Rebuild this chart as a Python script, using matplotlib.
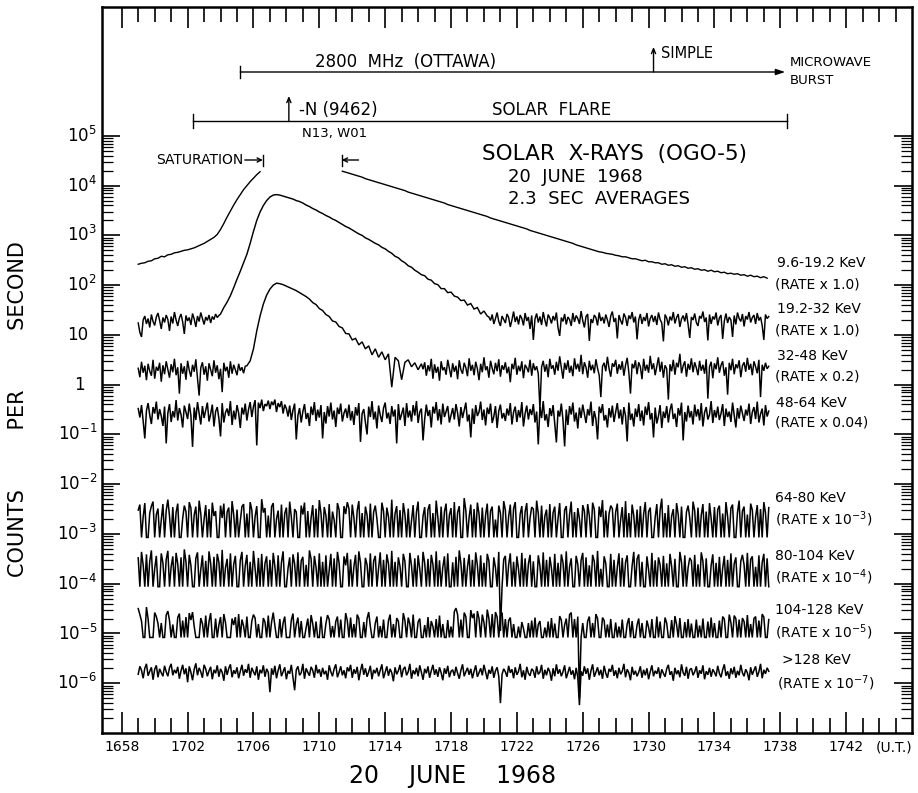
import numpy as np
import matplotlib
matplotlib.use('Agg')
import matplotlib.pyplot as plt
import matplotlib.transforms as mtransforms
from matplotlib.ticker import FixedLocator, NullFormatter

plt.rcParams['font.family'] = ['DejaVu Sans']
plt.rcParams['mathtext.fontset'] = 'dejavusans'

# ------------------------------------------------------------------ data
# time axis: minutes after 16:58 UT
TIME_LABELS = ['1658', '1702', '1706', '1710', '1714', '1718', '1722',
               '1726', '1730', '1734', '1738', '1742']
COARSE_STEP = 0.2       # minutes between read-off samples on smooth parts
FINE_STEP = 0.1         # minutes between read-off samples on noisy parts

# ---- 9.6-19.2 KeV: log10(counts/s), smooth, saturated in the middle
CH1_RISE_START = 1.0
CH1_RISE = [2.42, 2.44, 2.45, 2.48, 2.49, 2.53, 2.54, 2.58, 2.57, 2.61, 2.62, 2.65,
            2.66, 2.68, 2.70, 2.71, 2.73, 2.75, 2.78, 2.81, 2.84, 2.88, 2.92, 2.96,
            3.02, 3.12, 3.24, 3.37, 3.49, 3.61, 3.72, 3.82, 3.92, 4.00, 4.08, 4.15,
            4.22, 4.28]
CH1_DECAY_START = 13.4
CH1_DECAY = [4.29, 4.27, 4.25, 4.23, 4.21, 4.19, 4.17, 4.14, 4.12, 4.10, 4.08, 4.06,
             4.04, 4.02, 4.00, 3.98, 3.96, 3.94, 3.92, 3.90, 3.87, 3.85, 3.83, 3.81,
             3.79, 3.77, 3.75, 3.73, 3.71, 3.69, 3.67, 3.65, 3.62, 3.60, 3.58, 3.56,
             3.54, 3.52, 3.50, 3.48, 3.46, 3.44, 3.42, 3.40, 3.38, 3.35, 3.33, 3.31,
             3.29, 3.27, 3.25, 3.23, 3.21, 3.19, 3.17, 3.15, 3.13, 3.10, 3.08, 3.06,
             3.04, 3.02, 3.00, 2.98, 2.96, 2.94, 2.92, 2.90, 2.88, 2.86, 2.84, 2.81,
             2.79, 2.77, 2.75, 2.73, 2.71, 2.69, 2.67, 2.66, 2.64, 2.63, 2.62, 2.60,
             2.59, 2.57, 2.57, 2.55, 2.53, 2.53, 2.51, 2.49, 2.50, 2.47, 2.47, 2.45,
             2.45, 2.42, 2.43, 2.40, 2.41, 2.38, 2.39, 2.36, 2.37, 2.34, 2.35, 2.32,
             2.33, 2.30, 2.31, 2.28, 2.30, 2.27, 2.28, 2.25, 2.26, 2.23, 2.24, 2.22,
             2.23, 2.20, 2.21, 2.18, 2.20, 2.17, 2.18, 2.15, 2.17, 2.14]

# ---- 19.2-32 KeV: log10(counts/s)
CH2_PRE_START = 1.0     # fine step
CH2_PRE = [1.24, 1.05, 0.96, 1.30, 1.38, 1.22, 1.33, 1.15, 1.41, 1.27,
           1.19, 1.36, 1.44, 1.29, 1.12, 1.35, 1.25, 1.40, 1.31, 1.08,
           1.37, 1.23, 1.46, 1.30, 1.18, 1.34, 1.42, 1.26, 1.02, 1.39,
           1.28, 1.35, 1.20, 1.43, 1.32, 1.16, 1.38, 1.27, 1.45, 1.33,
           1.21, 1.36, 1.29, 1.40, 1.24, 1.37, 1.31, 1.42, 1.35, 1.39]
CH2_FLARE_START = 6.0   # coarse step
CH2_FLARE = [1.42, 1.55, 1.66, 1.79, 1.95, 2.12, 2.28, 2.45, 2.62, 2.84, 3.08, 3.30,
             3.47, 3.60, 3.70, 3.77, 3.81, 3.82, 3.81, 3.79, 3.77, 3.75, 3.73, 3.70, 3.68,
             3.65, 3.61, 3.58, 3.54, 3.51, 3.47, 3.44, 3.40, 3.37, 3.33, 3.30, 3.26,
             3.22, 3.18, 3.15, 3.11, 3.07, 3.03, 3.00, 2.95, 2.92, 2.88, 2.84, 2.81,
             2.76, 2.73, 2.68, 2.64, 2.58, 2.55, 2.49, 2.45, 2.39, 2.36, 2.30, 2.26,
             2.21, 2.19, 2.12, 2.10, 2.03, 2.01, 1.93, 1.93, 1.85, 1.86, 1.78, 1.76,
             1.69, 1.70, 1.60, 1.63, 1.52, 1.55, 1.42, 1.48, 1.38]
CH2_POST_START = 22.3   # fine step
CH2_POST = [1.36, 1.29, 1.41, 1.22, 1.33, 1.45, 1.27, 1.18, 1.38, 1.31,
            1.24, 1.42, 1.35, 1.16, 1.30, 1.47, 1.26, 1.37, 1.21, 1.40,
            1.33, 1.19, 1.44, 1.28, 1.36, 1.12, 1.39, 0.90, 1.32, 1.43,
            1.25, 1.37, 1.20, 1.46, 1.30, 1.17, 1.41, 1.34, 1.23, 1.38,
            1.29, 1.45, 1.14, 0.98, 1.35, 1.27, 1.42, 1.21, 1.36, 1.31,
            1.18, 1.44, 1.26, 1.39, 1.33, 1.22, 1.48, 1.29, 1.15, 1.37,
            1.42, 0.88, 1.32, 1.24, 1.40, 1.35, 1.19, 1.45, 1.28, 1.36,
            1.23, 1.41, 1.30, 1.16, 1.38, 1.47, 1.26, 1.34, 0.93, 1.40,
            1.29, 1.21, 1.43, 1.35, 1.18, 1.39, 1.32, 1.46, 1.25, 1.37,
            0.91, 1.30, 1.42, 1.22, 1.36, 1.28, 1.44, 1.17, 1.33, 1.40,
            1.26, 1.38, 1.20, 1.45, 1.31, 1.24, 0.87, 1.41, 1.34, 1.19,
            1.37, 1.29, 1.46, 1.23, 1.35, 1.42, 1.16, 1.32, 1.39, 1.27,
            1.44, 1.21, 0.94, 1.36, 1.30, 1.43, 1.25, 1.18, 1.38, 1.33,
            1.47, 1.26, 1.35, 0.89, 1.41, 1.22, 1.37, 1.31, 1.45, 1.19,
            1.34, 1.40, 0.92, 1.28, 1.43, 1.24, 1.36, 1.30, 0.96, 1.39,
            1.21, 1.45, 1.33, 1.27, 1.42, 1.17, 1.38, 1.31, 1.46, 1.25,
            1.35, 1.40, 1.22, 1.44, 1.29, 1.36, 1.19, 0.90, 1.41, 1.33,
            1.37]

# ---- 32-48 KeV: log10(counts/s)
CH3_PRE_START = 1.0     # fine step
CH3_PRE = [0.33, 0.15, 0.46, 0.24, 0.38, 0.09, 0.42, 0.27, 0.18, 0.50,
           0.12, 0.36, 0.28, 0.44, 0.06, 0.39, 0.21, 0.47, 0.31, 0.14,
           0.41, 0.25, 0.52, 0.19, 0.35, -0.18, 0.43, 0.22, 0.37, 0.10,
           0.48, 0.29, 0.16, 0.40, 0.26, 0.51, 0.13, -0.22, 0.34, 0.45,
           0.20, 0.37, 0.08, 0.43, 0.30, 0.17, 0.49, 0.24, 0.39, 0.11,
           0.32, -0.15, 0.44, 0.27, 0.36, 0.14, 0.47, 0.22, 0.40, 0.30,
           0.19, 0.42, 0.28, 0.35, 0.23, 0.37]
CH3_FLARE_START = 7.6   # coarse step
CH3_FLARE = [0.38, 0.48, 0.72, 1.08, 1.38, 1.62, 1.80, 1.92, 2.00, 2.04, 2.03, 2.01,
             1.98, 1.95, 1.92, 1.89, 1.85, 1.81, 1.77, 1.72, 1.65, 1.61, 1.53, 1.49,
             1.41, 1.37, 1.28, 1.26, 1.17, 1.14, 1.03, 1.02, 0.90, 0.93, 0.80, 0.86,
             0.72, 0.78, 0.60, 0.72, 0.55, 0.66, 0.50, 0.62, -0.05, 0.55, 0.48, 0.10,
             0.45, 0.50, 0.36, 0.44, 0.30, 0.42]
CH3_POST_START = 18.3   # fine step
CH3_POST = [0.31, 0.45, 0.18, 0.39, 0.27, 0.52, 0.12, 0.41, 0.24, 0.36,
            0.08, 0.47, 0.29, 0.35, 0.20, 0.50, 0.33, 0.15, 0.43, 0.26,
            0.38, 0.11, 0.49, 0.30, 0.22, 0.44, 0.34, 0.17, 0.53, 0.28,
            0.40, 0.19, 0.46, 0.32, 0.09, 0.42, 0.25, 0.55, 0.29, 0.37,
            0.14, 0.48, 0.33, 0.21, 0.44, 0.27, 0.51, 0.16, 0.39, 0.30,
            0.45, 0.23, 0.36, 0.05, 0.42, 0.31, 0.54, 0.20, 0.38, 0.27,
            0.47, 0.13, 0.40, 0.34, 0.25, 0.50, 0.18, 0.43, 0.29, 0.37,
            0.22, -0.50, 0.35, 0.48, 0.26, 0.41, 0.15, 0.52, 0.32, 0.39,
            0.20, 0.46, 0.28, 0.57, 0.34, 0.12, 0.44, 0.30, 0.49, 0.24,
            0.38, 0.17, 0.53, 0.31, 0.42, 0.26, 0.60, 0.21, 0.45, 0.35,
            0.14, 0.48, 0.29, 0.40, 0.23, 0.51, 0.33, 0.19, -0.25, 0.37,
            0.44, 0.27, 0.56, 0.32, 0.16, 0.43, 0.36, 0.50, 0.22, 0.41,
            0.30, 0.47, 0.18, 0.39, 0.54, 0.25, -0.18, 0.42, 0.33, 0.49,
            0.21, 0.45, 0.36, 0.11, 0.52, 0.28, 0.40, 0.24, 0.58, 0.31,
            0.43, 0.19, 0.37, 0.55, 0.26, 0.46, 0.14, 0.39, 0.32, -0.30,
            0.41, 0.27, 0.50, 0.20, 0.44, 0.35, 0.62, 0.23, 0.38, 0.47,
            0.16, 0.42, 0.30, 0.53, 0.25, 0.45, 0.34, 0.19, 0.48, 0.28,
            0.40, 0.22, 0.51, -0.28, 0.36, 0.46, 0.13, 0.43, 0.31, 0.55,
            0.24, 0.39, 0.47, 0.18, 0.35, -0.20, 0.44, 0.29, 0.52, 0.21,
            0.41, 0.33, 0.49, 0.15, 0.38, 0.45, 0.26, 0.54, 0.30, 0.42,
            0.19, 0.47, 0.36, 0.23, 0.50, -0.25, 0.40, 0.28, 0.44, 0.32,
            0.37]

# ---- channels 4-8: log10(counts/s) in hundredths, fine step from t = 1.0
NOISY_START = 1.0
CH4 = [-48, -66, -41, -73, -108, -52, -37, -61, -79, -45, -58, -34, -70, -49, -63, -83,
       -44, -118, -57, -39, -75, -53, -66, -31, -72, -47, -60, -86, -42, -55, -69, -38,
       -62, -125, -46, -71, -35, -58, -80, -43, -67, -51, -36, -74, -59, -40, -84, -54,
       -45, -68, -104, -37, -76, -56, -48, -63, -33, -81, -52, -70, -41, -57, -87, -46,
       -60, -38, -72, -50, -35, -65, -44, -31, -122, -36, -47, -30, -53, -39, -43, -32,
       -49, -34, -41, -30, -55, -37, -45, -33, -58, -40, -48, -64, -42, -71, -51, -38,
       -110, -62, -47, -76, -54, -39, -69, -57, -83, -44, -61, -35, -73, -50, -66, -41,
       -108, -55, -78, -43, -64, -36, -70, -52, -85, -46, -59, -38, -74, -57, -48, -67,
       -40, -72, -53, -81, -45, -62, -37, -115, -58, -49, -76, -100, -44, -65, -33, -70,
       -54, -88, -42, -61, -75, -47, -36, -68, -56, -79, -43, -64, -50, -118, -39, -71,
       -59, -46, -83, -37, -66, -52, -74, -41, -62, -33, -77, -55, -48, -112, -69, -40,
       -63, -51, -86, -44, -58, -35, -72, -49, -80, -38, -65, -54, -43, -76, -61, -47,
       -70, -39, -57, -84, -45, -67, -52, -36, -74, -60, -106, -48, -79, -41, -63, -55,
       -34, -71, -50, -82, -46, -59, -38, -77, -64, -43, -87, -53, -40, -68, -57, -73,
       -48, -62, -37, -80, -55, -44, -75, -51, -66, -35, -84, -58, -42, -70, -49, -61,
       -39, -76, -54, -120, -45, -67, -33, -72, -59, -85, -47, -63, -41, -78, -116, -52,
       -64, -38, -71, -124, -50, -81, -43, -60, -36, -74, -56, -88, -46, -67, -40, -58,
       -77, -49, -62, -34, -83, -53, -69, -110, -44, -57, -39, -72, -61, -86, -47, -66,
       -42, -75, -55, -37, -68, -50, -80, -45, -63, -114, -36, -71, -58, -84, -48, -65,
       -39, -73, -52, -82, -44, -61, -35, -70, -57, -106, -46, -78, -63, -41, -87, -54,
       -67, -43, -76, -51, -38, -69, -58, -85, -47, -62, -36, -112, -55, -74, -42, -66,
       -53, -80, -40, -64, -49, -72, -37, -84, -56, -45, -70, -60, -33, -77, -51, -66,
       -44, -71, -58, -39, -83, -48, -65, -54, -75, -36, -61, -86, -47, -68, -42, -57,
       -73, -50, -62, -38, -79, -55, -45, -69, -34, -76, -59, -48, -82, -41, -64, -53]

CH5 = [-252, -241, -307, -266, -238, -307, -307, -258, -244, -235, -307, -261, -249, -307, -272, -240,
       -307, -253, -231, -264, -307, -246, -307, -257, -239, -307, -307, -269, -243, -255, -307, -236,
       -248, -307, -262, -245, -307, -233, -259, -307, -271, -242, -307, -250, -307, -237, -264, -254,
       -307, -307, -243, -268, -239, -307, -256, -247, -307, -234, -261, -307, -251, -307, -274, -245,
       -240, -307, -259, -307, -236, -252, -307, -265, -244, -307, -307, -230, -257, -248, -307, -263,
       -307, -245, -238, -307, -270, -253, -307, -241, -307, -259, -247, -307, -235, -266, -307, -250,
       -256, -307, -307, -243, -261, -237, -307, -254, -307, -268, -242, -307, -249, -307, -232, -258,
       -307, -246, -263, -307, -240, -307, -255, -272, -307, -238, -251, -307, -307, -244, -260, -236,
       -249, -307, -241, -267, -307, -253, -234, -307, -258, -307, -245, -262, -307, -239, -307, -256,
       -243, -270, -307, -307, -237, -254, -307, -247, -265, -307, -231, -307, -259, -244, -307, -252,
       -307, -238, -261, -307, -249, -307, -273, -242, -307, -256, -235, -307, -307, -264, -246, -307,
       -251, -240, -307, -258, -307, -233, -267, -307, -245, -307, -255, -239, -307, -262, -248, -307,
       -236, -307, -257, -244, -307, -307, -228, -253, -307, -266, -241, -307, -250, -307, -237, -260,
       -307, -247, -307, -262, -239, -307, -254, -245, -307, -271, -307, -243, -258, -307, -234, -252,
       -307, -265, -241, -307, -249, -236, -307, -307, -260, -244, -307, -255, -238, -307, -268, -246,
       -250, -307, -233, -259, -307, -243, -307, -264, -251, -307, -240, -307, -257, -245, -307, -269,
       -238, -307, -307, -252, -244, -307, -261, -235, -307, -256, -307, -248, -270, -307, -242, -254,
       -307, -240, -263, -307, -237, -250, -307, -307, -245, -266, -232, -307, -253, -307, -259, -243,
       -249, -307, -256, -239, -307, -272, -246, -307, -234, -307, -258, -307, -241, -263, -307, -251,
       -307, -244, -307, -260, -236, -307, -255, -247, -307, -307, -267, -240, -307, -252, -229, -307,
       -258, -307, -242, -307, -264, -250, -307, -238, -261, -307, -245, -307, -307, -256, -243, -268,
       -307, -235, -253, -307, -247, -307, -262, -240, -307, -255, -307, -238, -269, -307, -246, -307,
       -251, -243, -307, -259, -307, -236, -265, -307, -248, -241, -307, -307, -257, -233, -307, -254,
       -245, -307, -261, -307, -239, -252, -307, -266, -242, -307, -250, -307, -236, -258, -307, -247]

CH6 = [-348, -406, -336, -362, -406, -341, -406, -355, -333, -406, -370, -344, -406, -406, -339, -358,
       -406, -351, -334, -406, -366, -345, -406, -338, -360, -406, -347, -406, -331, -356, -406, -342,
       -363, -406, -406, -349, -337, -406, -372, -343, -406, -354, -406, -335, -359, -406, -346, -406,
       -340, -357, -406, -332, -406, -368, -350, -406, -339, -406, -361, -344, -406, -406, -353, -336,
       -406, -364, -342, -406, -356, -406, -334, -371, -406, -348, -406, -340, -406, -359, -345, -406,
       -352, -406, -338, -365, -406, -343, -406, -357, -335, -406, -406, -369, -347, -406, -341, -360,
       -406, -337, -406, -354, -346, -406, -362, -406, -333, -350, -406, -344, -367, -406, -339, -406,
       -356, -406, -343, -406, -373, -340, -406, -349, -406, -336, -358, -406, -406, -345, -363, -338,
       -406, -351, -406, -366, -342, -406, -335, -357, -406, -406, -348, -362, -406, -339, -406, -354,
       -344, -406, -369, -337, -406, -352, -406, -341, -360, -406, -334, -406, -356, -406, -347, -365,
       -406, -340, -355, -406, -406, -338, -364, -406, -349, -406, -343, -370, -406, -336, -358, -406,
       -350, -406, -342, -361, -406, -335, -406, -353, -406, -367, -345, -406, -339, -406, -406, -357,
       -406, -346, -406, -333, -359, -406, -348, -406, -366, -341, -406, -352, -406, -337, -363, -406,
       -343, -406, -358, -406, -340, -354, -406, -406, -347, -368, -406, -336, -495, -406, -351, -344,
       -406, -362, -339, -406, -356, -406, -345, -371, -406, -338, -406, -349, -406, -360, -342, -406,
       -355, -406, -406, -343, -364, -406, -337, -406, -352, -406, -346, -369, -406, -340, -406, -358,
       -406, -341, -357, -406, -335, -406, -366, -349, -406, -406, -344, -361, -406, -353, -338, -406,
       -347, -406, -363, -406, -342, -355, -406, -334, -406, -370, -406, -345, -359, -406, -406, -340,
       -406, -352, -406, -367, -339, -406, -348, -406, -357, -343, -406, -406, -364, -336, -406, -350,
       -341, -406, -356, -406, -406, -345, -372, -406, -338, -406, -353, -406, -347, -362, -406, -344,
       -406, -359, -406, -340, -365, -406, -350, -406, -406, -336, -357, -406, -343, -406, -368, -348,
       -354, -406, -342, -406, -361, -406, -337, -355, -406, -349, -406, -406, -363, -341, -406, -358,
       -406, -346, -406, -369, -344, -406, -352, -406, -339, -406, -360, -347, -406, -406, -355, -342,
       -362, -406, -338, -406, -351, -345, -406, -366, -406, -343, -406, -357, -340, -406, -349, -406]

CH7 = [-450, -462, -475, -508, -508, -447, -471, -508, -508, -508, -458, -466, -480, -508, -479, -508,
       -508, -463, -455, -474, -508, -482, -508, -508, -468, -460, -508, -474, -508, -467, -508, -459,
       -473, -457, -486, -508, -508, -508, -469, -480, -508, -464, -508, -476, -459, -508, -508, -470,
       -508, -483, -467, -508, -461, -478, -508, -508, -508, -470, -483, -467, -508, -461, -508, -472,
       -485, -508, -466, -508, -508, -475, -462, -469, -508, -481, -508, -508, -469, -477, -508, -464,
       -508, -477, -458, -484, -508, -508, -471, -508, -479, -466, -508, -508, -508, -473, -460, -508,
       -482, -468, -508, -475, -508, -508, -488, -470, -508, -463, -480, -508, -476, -508, -508, -466,
       -508, -508, -480, -463, -472, -508, -485, -508, -476, -466, -508, -472, -508, -508, -459, -474,
       -508, -468, -508, -481, -508, -462, -470, -508, -508, -477, -508, -470, -457, -486, -508, -508,
       -479, -466, -508, -485, -508, -472, -508, -508, -474, -462, -508, -481, -508, -469, -475, -508,
       -508, -459, -474, -508, -468, -481, -508, -462, -508, -508, -477, -470, -508, -508, -483, -508,
       -467, -508, -475, -486, -508, -471, -508, -464, -508, -481, -508, -508, -473, -508, -486, -508,
       -456, -449, -462, -508, -472, -508, -458, -466, -508, -508, -453, -469, -460, -508, -455, -470,
       -508, -462, -478, -508, -452, -470, -508, -461, -508, -457, -467, -508, -464, -458, -508, -471,
       -508, -474, -468, -508, -481, -508, -508, -486, -508, -477, -490, -508, -508, -479, -508, -474,
       -508, -468, -508, -482, -475, -508, -508, -488, -508, -476, -508, -469, -508, -480, -508, -508,
       -465, -473, -508, -483, -470, -508, -462, -458, -508, -471, -508, -466, -630, -508, -479, -508,
       -508, -475, -466, -508, -479, -508, -461, -470, -508, -508, -468, -474, -508, -482, -508, -471,
       -508, -508, -478, -508, -486, -508, -472, -508, -508, -481, -469, -508, -475, -508, -508, -483,
       -470, -508, -479, -508, -508, -474, -488, -508, -471, -508, -508, -466, -508, -476, -508, -508,
       -468, -479, -508, -508, -473, -508, -465, -482, -508, -469, -508, -508, -477, -508, -471, -508,
       -480, -508, -508, -472, -508, -484, -508, -470, -508, -508, -476, -508, -468, -508, -479, -508,
       -508, -474, -508, -466, -471, -508, -508, -462, -478, -508, -464, -470, -508, -472, -508, -469,
       -476, -508, -463, -508, -481, -508, -470, -466, -508, -474, -508, -461, -467, -508, -508, -472]

CH8 = [-582, -566, -574, -590, -570, -561, -585, -576, -568, -593, -572, -564, -588, -571, -579, -586,
       -565, -577, -586, -569, -561, -584, -573, -580, -567, -591, -575, -563, -582, -570, -598, -566,
       -578, -594, -572, -560, -584, -569, -577, -589, -563, -571, -586, -575, -567, -592, -573, -580,
       -564, -587, -571, -578, -595, -566, -583, -570, -562, -588, -574, -581, -568, -590, -576, -563,
       -585, -572, -579, -561, -589, -569, -577, -584, -566, -593, -573, -580, -564, -587, -571, -578,
       -618, -570, -583, -565, -590, -574, -562, -586, -577, -568, -592, -575, -581, -563, -588, -614,
       -573, -566, -584, -579, -561, -591, -570, -578, -585, -567, -574, -589, -563, -580, -572, -587,
       -569, -582, -575, -593, -564, -577, -586, -571, -562, -588, -578, -566, -584, -574, -590, -568,
       -576, -563, -589, -572, -581, -567, -594, -575, -561, -583, -570, -587, -577, -565, -592, -573,
       -580, -569, -586, -574, -562, -590, -578, -566, -585, -571, -579, -596, -568, -582, -575, -563,
       -588, -572, -567, -584, -577, -561, -591, -574, -582, -569, -586, -564, -578, -593, -571, -580,
       -566, -589, -575, -563, -583, -572, -587, -568, -579, -594, -570, -581, -565, -588, -576, -573,
       -585, -567, -580, -591, -574, -562, -586, -577, -569, -583, -571, -590, -576, -564, -587, -579,
       -570, -584, -563, -578, -592, -573, -581, -566, -589, -575, -568, -586, -640, -582, -571, -577,
       -587, -565, -579, -572, -590, -568, -583, -576, -561, -588, -574, -593, -567, -580, -585, -571,
       -575, -589, -566, -582, -578, -563, -591, -573, -584, -569, -577, -595, -570, -586, -562, -581,
       -572, -586, -577, -564, -590, -579, -567, -583, -574, -592, -569, -588, -644, -576, -585, -566,
       -581, -570, -593, -575, -562, -587, -578, -568, -584, -573, -591, -565, -580, -589, -571, -577,
       -563, -585, -574, -590, -569, -582, -576, -561, -588, -572, -579, -594, -567, -583, -575, -586,
       -578, -566, -589, -573, -584, -570, -592, -577, -564, -586, -575, -581, -568, -590, -572, -580,
       -587, -571, -563, -583, -576, -595, -569, -582, -574, -588, -562, -579, -585, -567, -591, -573,
       -570, -584, -577, -566, -589, -574, -581, -564, -592, -576, -583, -569, -587, -572, -578, -586,
       -565, -580, -588, -573, -562, -585, -576, -591, -570, -582, -567, -589, -575, -584, -563, -579,
       -586, -572, -579, -594, -568, -583, -574, -566, -587, -577, -561, -590, -573, -581, -569, -576]

CHANNELS = ['9.6-19.2 KeV', '19.2-32 KeV', '32-48 KeV', '48-64 KeV',
            '64-80 KeV', '80-104 KeV', '104-128 KeV', '>128 KeV']
RATES = ['(RATE x 1.0)', '(RATE x 1.0)', '(RATE x 0.2)', '(RATE x 0.04)',
         '(RATE x 10$^{-3}$)', '(RATE x 10$^{-4}$)', '(RATE x 10$^{-5}$)',
         '(RATE x 10$^{-7}$)']

YTICK_EXP = [5, 4, 3, 2, 1, 0, -1, -2, -3, -4, -5, -6]
YTICK_LABELS = ['$10^{5}$', '$10^{4}$', '$10^{3}$', '$10^{2}$', '10', '1',
                '$10^{-1}$', '$10^{-2}$', '$10^{-3}$', '$10^{-4}$', '$10^{-5}$',
                '$10^{-6}$']

# event times (minutes after 1658)
MW_START, MW_END, MW_SIMPLE = 7.2, 40.3, 32.3
FLARE_START, FLARE_END, FLARE_MAX = 4.3, 40.4, 10.15
SAT_START, SAT_END = 8.57, 13.37

# ------------------------------------------------------------------ figure
W, H = 918, 793
AX_L, AX_R, AX_T, AX_B = 102, 912, 7, 733
fig = plt.figure(figsize=(W / 100, H / 100), dpi=100)
ax = fig.add_axes([AX_L / W, 1 - AX_B / H, (AX_R - AX_L) / W, (AX_B - AX_T) / H])


def fx(px):
    return (px - AX_L) / (AX_R - AX_L)


def fy(py):
    return (AX_B - py) / (AX_B - AX_T)


def sample_times(start, n, step):
    return start + step * np.arange(n)


def joined(parts):
    """parts: list of (start, step, values) -> concatenated times, log values"""
    t = np.concatenate([sample_times(s, len(v), st) for s, st, v in parts])
    v = np.concatenate([np.asarray(v, dtype=float) for s, st, v in parts])
    return t, v


LINE = dict(color='black', solid_joinstyle='miter')
for start, seg in [(CH1_RISE_START, CH1_RISE), (CH1_DECAY_START, CH1_DECAY)]:
    ax.plot(sample_times(start, len(seg), COARSE_STEP), 10.0 ** np.asarray(seg),
            lw=1.0, **LINE)

for parts in [[(CH2_PRE_START, FINE_STEP, CH2_PRE),
               (CH2_FLARE_START, COARSE_STEP, CH2_FLARE),
               (CH2_POST_START, FINE_STEP, CH2_POST)],
              [(CH3_PRE_START, FINE_STEP, CH3_PRE),
               (CH3_FLARE_START, COARSE_STEP, CH3_FLARE),
               (CH3_POST_START, FINE_STEP, CH3_POST)]]:
    t, v = joined(parts)
    ax.plot(t, 10.0 ** v, lw=1.05, **LINE)

for series in [CH4, CH5, CH6, CH7, CH8]:
    ax.plot(sample_times(NOISY_START, len(series), FINE_STEP),
            10.0 ** (np.asarray(series) / 100.0), lw=1.1, **LINE)

ax.set_yscale('log')
ax.set_ylim(1e-7, 10 ** 7.59)
ax.set_xlim(-1.2, 48.0)


def minutes(label):
    return int(label[:2]) * 60 + int(label[2:]) - (16 * 60 + 58)


ax.set_xticks([minutes(l) for l in TIME_LABELS])
ax.set_xticklabels(TIME_LABELS)
ax.xaxis.set_minor_locator(FixedLocator(np.arange(0, 48, 1)))
ax.tick_params(axis='x', which='both', direction='in', top=True, bottom=True,
               width=1.2)
ax.tick_params(axis='x', which='major', length=15, labelsize=10, pad=5)
ax.tick_params(axis='x', which='minor', length=10.5)

ax.yaxis.set_major_locator(FixedLocator([10.0 ** e for e in YTICK_EXP]))
ax.yaxis.set_major_formatter(NullFormatter())
ax.yaxis.set_minor_locator(FixedLocator(
    [k * 10.0 ** e for e in range(-7, 5) for k in range(2, 10)]))
ax.yaxis.set_minor_formatter(NullFormatter())
ax.tick_params(axis='y', which='both', direction='in', left=True, right=True)
ax.tick_params(axis='y', which='major', length=13, width=1.2)
ax.tick_params(axis='y', which='minor', length=8, width=0.9)

for sp in ax.spines.values():
    sp.set_linewidth(1.8)

ytrans = mtransforms.blended_transform_factory(ax.transAxes, ax.transData)
for e, lab in zip(YTICK_EXP, YTICK_LABELS):
    right_px = {'10': 88, '1': 85}.get(lab, 97)
    ax.text(fx(right_px), 10.0 ** e, lab, transform=ytrans, ha='right',
            va='center', fontsize=12)

fig.text(894.5 / W, 1 - 747.5 / H, '(U.T.)', ha='center', va='center', fontsize=10)
fig.text(453 / W, 1 - 776 / H, '20    JUNE    1968', ha='center', va='center',
         fontsize=17)
fig.text(18.5 / W, 1 - 409 / H, 'COUNTS         PER         SECOND', rotation=90,
         ha='center', va='center', fontsize=15)

# ------------------------------------------------------------------ annotations
blend = mtransforms.blended_transform_factory(ax.transData, ax.transAxes)
K = dict(color='black', lw=1.0)

y_mw = fy(72)
ax.annotate('', xy=(MW_END, y_mw), xytext=(MW_START, y_mw), xycoords=blend,
            textcoords=blend,
            arrowprops=dict(arrowstyle='-|>,head_length=0.55,head_width=0.18',
                            shrinkA=0, shrinkB=0, **K))
ax.plot([MW_START, MW_START], [fy(66), fy(78)], transform=blend, **K)
ax.annotate('', xy=(MW_SIMPLE, fy(47)), xytext=(MW_SIMPLE, y_mw), xycoords=blend,
            textcoords=blend,
            arrowprops=dict(arrowstyle='->,head_length=0.35,head_width=0.15',
                            shrinkA=0, shrinkB=0, **K))
ax.text(fx(405.5), fy(62), '2800  MHz  (OTTAWA)', transform=ax.transAxes,
        ha='center', va='center', fontsize=12)
ax.text(fx(661), fy(54), 'SIMPLE', transform=ax.transAxes, ha='left',
        va='center', fontsize=10.5)
ax.text(fx(790), fy(62), 'MICROWAVE', transform=ax.transAxes, ha='left',
        va='center', fontsize=9.5)
ax.text(fx(790), fy(80), 'BURST', transform=ax.transAxes, ha='left',
        va='center', fontsize=9.5)

y_fl = fy(121)
ax.plot([FLARE_START, FLARE_END], [y_fl, y_fl], transform=blend, **K)
for t in (FLARE_START, FLARE_END):
    ax.plot([t, t], [fy(114), fy(128)], transform=blend, **K)
ax.annotate('', xy=(FLARE_MAX, fy(96)), xytext=(FLARE_MAX, y_fl), xycoords=blend,
            textcoords=blend,
            arrowprops=dict(arrowstyle='->,head_length=0.35,head_width=0.15',
                            shrinkA=0, shrinkB=0, **K))
ax.text(fx(299), fy(110), '-N (9462)', transform=ax.transAxes, ha='left',
        va='center', fontsize=12)
ax.text(fx(302), fy(133), 'N13, W01', transform=ax.transAxes, ha='left',
        va='center', fontsize=9.5)
ax.text(fx(492), fy(110), 'SOLAR  FLARE', transform=ax.transAxes, ha='left',
        va='center', fontsize=12)

y_sat = fy(160)
ax.plot([SAT_START, SAT_START], [fy(155), fy(166)], transform=blend, **K)
ax.plot([SAT_END, SAT_END], [fy(155), fy(166)], transform=blend, **K)
ax.annotate('', xy=(SAT_START, y_sat), xycoords=blend, xytext=(-13, 0),
            textcoords='offset points',
            arrowprops=dict(arrowstyle='->,head_length=0.3,head_width=0.15',
                            shrinkA=0, shrinkB=0, **K))
ax.annotate('', xy=(SAT_END, y_sat), xycoords=blend, xytext=(12, 0),
            textcoords='offset points',
            arrowprops=dict(arrowstyle='->,head_length=0.3,head_width=0.15',
                            shrinkA=0, shrinkB=0, **K))
ax.text(fx(243), y_sat, 'SATURATION', transform=ax.transAxes, ha='right',
        va='center', fontsize=10)

ax.text(fx(482), fy(154), 'SOLAR  X-RAYS  (OGO-5)', transform=ax.transAxes,
        ha='left', va='center', fontsize=15.5)
ax.text(fx(508), fy(177), '20  JUNE  1968', transform=ax.transAxes, ha='left',
        va='center', fontsize=13)
ax.text(fx(508), fy(199), '2.3  SEC  AVERAGES', transform=ax.transAxes,
        ha='left', va='center', fontsize=13)

LABEL_ROWS = [(777, 263, 284), (777, 309, 330), (777, 356, 377), (776, 403, 423),
              (775, 498, 519), (775, 556, 577), (775, 610, 632), (782, 660, 683)]
for (xp, y1, y2), ch, rate in zip(LABEL_ROWS, CHANNELS, RATES):
    ax.text(fx(xp), fy(y1), ch, transform=ax.transAxes, ha='left', va='center',
            fontsize=10)
    ax.text(fx(775 if xp != 782 else 777), fy(y2), rate, transform=ax.transAxes,
            ha='left', va='center', fontsize=10)

fig.savefig('out.png', dpi=100)
